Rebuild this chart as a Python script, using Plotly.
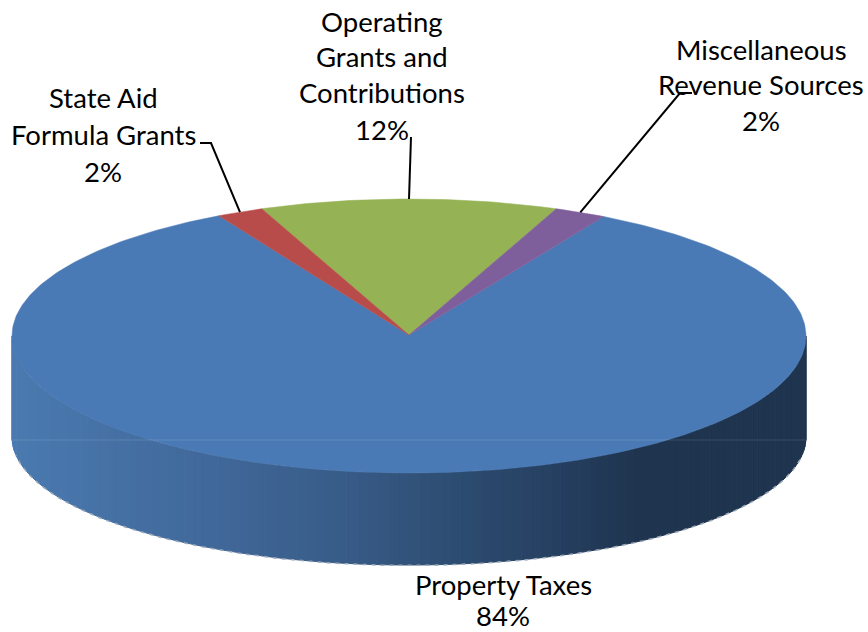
import numpy as np
import plotly.graph_objects as go

# ---- data (clockwise from the start of the green slice)
categories = ["Operating Grants and Contributions", "Miscellaneous Revenue Sources", "Property Taxes", "State Aid Formula Grants"]
values = [12.1, 2.1, 83.9, 1.9]
colors = ["#95B354", "#7F5F9B", "#4A7AB5", "#B84C4A"]
label_lines = [["Operating", "Grants and", "Contributions"], ["Miscellaneous", "Revenue Sources"], ["Property Taxes"], ["State Aid", "Formula Grants"]]
label_x = [382, 761, 503, 103]
label_y = [[21, 56, 92, 129], [49, 84, 120], [584, 615], [97, 134, 171]]

# ---- layout geometry
W, H = 868, 632
CX, CY, RX, RY = 409, 336, 397, 137
BOTTOM_CY, BOTTOM_RY = 437, 128
FONT = "Lato"
FS = 27.5
wall_x = [12, 200, 340, 434, 560, 640, 806]
wall_rgb = [(74, 122, 176), (65, 105, 155), (56, 92, 136), (47, 79, 117), (37, 63, 96), (31, 52, 78), (31, 52, 78)]


def rim(deg, cy=CY, ry=RY):
    a = np.radians(deg)
    return CX + RX * np.sin(a), cy - ry * np.cos(a)


def wall_color(x):
    c = [int(round(np.interp(x, wall_x, [p[i] for p in wall_rgb]))) for i in range(3)]
    return f"rgb({c[0]},{c[1]},{c[2]})"


fig = go.Figure()

# side wall, drawn as thin strips
edges = np.arange(90, 270.01, 1.5)
for a0, a1 in zip(edges[:-1], edges[1:]):
    arc = np.array([a0, a1])
    xt, yt = rim(arc)
    xb, yb = rim(arc, BOTTOM_CY, BOTTOM_RY)
    col = wall_color((xt[0] + xt[1]) / 2)
    fig.add_trace(go.Scatter(
        x=[xt[0], xt[1], xb[1], xb[0], xt[0]], y=[yt[0], yt[1], yb[1], yb[0], yt[0]],
        mode="lines", fill="toself", fillcolor=col, line=dict(color=col, width=1),
        hoverinfo="skip", showlegend=False))

# dotted lower rim
rim_a = np.linspace(100, 262, 200)
xr, yr = rim(rim_a, BOTTOM_CY + 0.5, BOTTOM_RY)
fig.add_trace(go.Scatter(x=xr, y=yr, mode="lines", line=dict(color="#9AA8B8", width=1.5, dash="4px,5px"),
                         hoverinfo="skip", showlegend=False))

# top face
start = -values[0] * 3.6 / 2
angles = start + np.cumsum([0] + values[:-1]) * 3.6
mids = {}
for order in [2, 0, 1, 3]:
    a0 = angles[order]
    a1 = a0 + values[order] * 3.6
    arc = np.linspace(a0, a1, max(int(values[order] * 4), 8))
    xs, ys = rim(arc)
    fig.add_trace(go.Scatter(
        x=np.r_[CX, xs, CX], y=np.r_[CY - 1, ys, CY - 1], mode="lines", fill="toself",
        fillcolor=colors[order], line=dict(color=colors[order], width=0.5),
        name=categories[order], hoverinfo="name", showlegend=False))
    mids[order] = (a0 + a1) / 2

# faint horizontal seam
fig.add_shape(type="line", x0=12, x1=806, y0=440, y1=440, line=dict(color="rgba(255,255,255,0.13)", width=1))

# leader lines
leaders = {3: [(200, 143), (211, 143)], 0: [(411, 137)], 1: [(692, 93), (680, 93)]}
for i, pts in leaders.items():
    ex, ey = rim(mids[i])
    lx = [p[0] for p in pts] + [float(ex)]
    ly = [p[1] for p in pts] + [float(ey)]
    fig.add_trace(go.Scatter(x=lx, y=ly, mode="lines", line=dict(color="black", width=2),
                             hoverinfo="skip", showlegend=False))

# labels
for i, lines in enumerate(label_lines):
    texts = lines + [f"{round(values[i])}%"]
    for t, y in zip(texts, label_y[i]):
        fig.add_annotation(x=label_x[i], y=y, text=t, showarrow=False, xanchor="center", yanchor="middle",
                           font=dict(family=FONT, size=FS, color="black"))

fig.update_layout(
    width=W, height=H, margin=dict(l=0, r=0, t=0, b=0), paper_bgcolor="white", plot_bgcolor="white",
    xaxis=dict(range=[0, W], visible=False, fixedrange=True),
    yaxis=dict(range=[H, 0], visible=False, fixedrange=True),
    showlegend=False)

fig.write_html("out.html", config={"displayModeBar": False},
               post_script="document.body.style.margin='0';document.documentElement.style.overflow='hidden';")
